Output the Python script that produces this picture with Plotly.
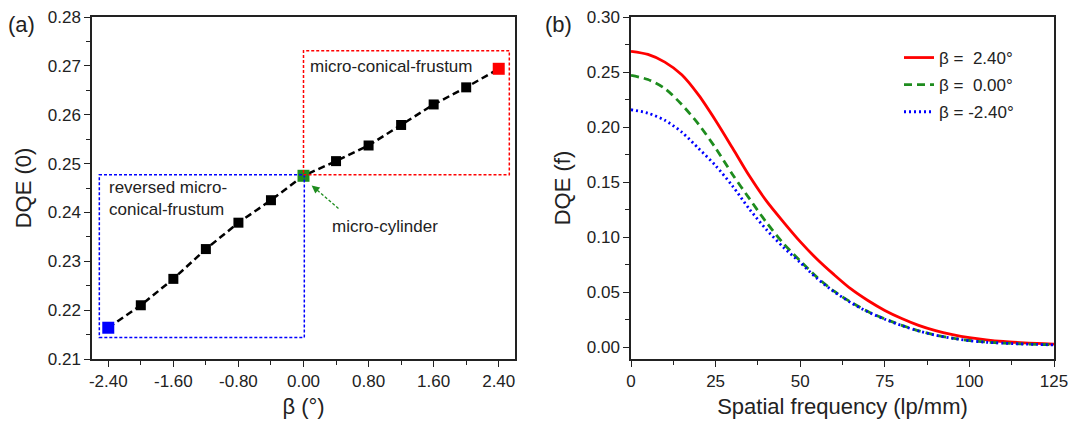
import plotly.graph_objects as go

# ---------------- data ----------------
beta = [-2.40, -2.00, -1.60, -1.20, -0.80, -0.40, 0.00, 0.40, 0.80, 1.20, 1.60, 2.00, 2.40]
dqe0 = [0.2164, 0.2210, 0.2264, 0.2325, 0.2379, 0.2425, 0.2475, 0.2505, 0.2537, 0.2579, 0.2621, 0.2656, 0.2694]

beta_ticks = [-2.40, -1.60, -0.80, 0.00, 0.80, 1.60, 2.40]
beta_ticktext = ["-2.40", "-1.60", "-0.80", "0.00", "0.80", "1.60", "2.40"]

freq = [0, 5, 10, 15, 20, 25, 30, 35, 40, 45, 50, 55, 60, 65, 70, 75, 80, 85, 90, 95, 100, 105, 110, 115, 120, 125]
dqe_pos = [0.2688, 0.2660, 0.2590, 0.2475, 0.2290, 0.2060, 0.1810, 0.1555, 0.1330, 0.1140, 0.0960, 0.0800, 0.0660,
           0.0530, 0.0425, 0.0335, 0.0262, 0.0200, 0.0152, 0.0116, 0.0088, 0.0068, 0.0053, 0.0043, 0.0035, 0.0030]
dqe_zero = [0.2470, 0.2432, 0.2350, 0.2205, 0.2025, 0.1810, 0.1570, 0.1350, 0.1135, 0.0945, 0.0785, 0.0635, 0.0510,
            0.0410, 0.0325, 0.0258, 0.0200, 0.0150, 0.0112, 0.0083, 0.0062, 0.0048, 0.0039, 0.0032, 0.0027, 0.0023]
dqe_neg = [0.2158, 0.2127, 0.2062, 0.1955, 0.1805, 0.1650, 0.1465, 0.1255, 0.1070, 0.0910, 0.0770, 0.0625, 0.0505,
           0.0405, 0.0322, 0.0255, 0.0198, 0.0148, 0.0110, 0.0082, 0.0060, 0.0046, 0.0038, 0.0031, 0.0026, 0.0022]

series_names = ["β = \u00a02.40°", "β = \u00a00.00°", "β = -2.40°"]

FONT = "Arial, Liberation Sans, sans-serif"
RED = "#ff0000"
GREEN = "#1e8c1e"
BLUE = "#0000ff"

W, H = 1071, 423


def px(p):
    return p / W


def py(p):
    return 1 - p / H


fig = go.Figure()

# ---------------- panel (a) ----------------
fig.add_trace(go.Scatter(
    x=beta, y=dqe0, mode="lines+markers", xaxis="x", yaxis="y",
    line=dict(color="black", width=2.5, dash="7px,4px"),
    marker=dict(symbol="square", size=10, color="black"),
    showlegend=False))
for idx, col in [(0, BLUE), (6, GREEN), (12, RED)]:
    fig.add_trace(go.Scatter(
        x=[beta[idx]], y=[dqe0[idx]], mode="markers", xaxis="x", yaxis="y",
        marker=dict(symbol="square", size=12, color=col),
        showlegend=False))

# ---------------- panel (b) ----------------
fig.add_trace(go.Scatter(x=freq, y=dqe_pos, mode="lines", xaxis="x2", yaxis="y2", legendgroup="a",
                         line=dict(color=RED, width=2.8, shape="spline", smoothing=0.8), name=series_names[0]))
fig.add_trace(go.Scatter(x=freq, y=dqe_zero, mode="lines", xaxis="x2", yaxis="y2", legendgroup="b",
                         line=dict(color=GREEN, width=2.8, dash="8px,5px", shape="spline", smoothing=0.8),
                         name=series_names[1]))
fig.add_trace(go.Scatter(x=freq, y=dqe_neg, mode="lines", xaxis="x2", yaxis="y2", legendgroup="c",
                         line=dict(color=BLUE, width=2.8, dash="2px,3px", shape="spline", smoothing=0.8),
                         name=series_names[2]))

axis_common = dict(showline=True, linecolor="#222", linewidth=1.5, mirror=True,
                   ticks="outside", ticklen=6, tickwidth=1.3, tickcolor="#222",
                   showgrid=False, zeroline=False, automargin=False,
                   ticklabeloverflow="allow",
                   tickfont=dict(family=FONT, size=17, color="#222"))

fig.update_layout(
    width=W, height=H,
    margin=dict(l=0, r=0, t=0, b=0, autoexpand=False),
    paper_bgcolor="white", plot_bgcolor="white",
    font=dict(family=FONT, color="#222"),
    xaxis=dict(domain=[px(92), px(515)], range=[-2.6, 2.6],
               tickvals=beta_ticks, ticktext=beta_ticktext,
               minor=dict(ticks="outside", ticklen=4, dtick=0.4, tick0=-2.4, tickcolor="#222"),
               title=dict(text="β (°)", font=dict(family=FONT, size=22), standoff=8),
               anchor="y", **axis_common),
    yaxis=dict(domain=[py(359), py(17)], range=[0.21, 0.28],
               dtick=0.01, tickformat=".2f",
               minor=dict(ticks="outside", ticklen=4, dtick=0.005, tickcolor="#222"),
               title=dict(text="DQE (0)", font=dict(family=FONT, size=22), standoff=10),
               anchor="x", **axis_common),
    xaxis2=dict(domain=[px(631), px(1054)], range=[0, 125],
                dtick=25, tickformat="d",
                minor=dict(ticks="outside", ticklen=4, dtick=12.5, tickcolor="#222"),
                title=dict(text="Spatial frequency (lp/mm)", font=dict(family=FONT, size=22), standoff=8),
                anchor="y2", **axis_common),
    yaxis2=dict(domain=[py(359), py(17)], range=[-0.0106, 0.30],
                dtick=0.05, tickformat=".2f",
                minor=dict(ticks="outside", ticklen=4, dtick=0.025, tickcolor="#222"),
                title=dict(text="DQE (f)", font=dict(family=FONT, size=22), standoff=10),
                anchor="x2", **axis_common),
    legend=dict(x=px(899), y=py(40), xanchor="left", yanchor="top",
                bgcolor="rgba(0,0,0,0)", borderwidth=0, tracegroupgap=2,
                font=dict(family=FONT, size=17, color="#222")),
)

# boxes around regions (panel a)
fig.add_shape(type="rect", xref="x", yref="y", x0=-2.51, x1=0.01, y0=0.2144, y1=0.2477,
              line=dict(color=BLUE, width=1.5, dash="3px,2px"))
fig.add_shape(type="rect", xref="x", yref="y", x0=0.0, x1=2.53, y0=0.2477, y1=0.2731,
              line=dict(color=RED, width=1.5, dash="3px,2px"))

# arrow to micro-cylinder
fig.add_shape(type="line", xref="x", yref="y", x0=0.43, y0=0.2408, x1=0.16, y1=0.2447,
              line=dict(color=GREEN, width=1.3, dash="3px,2px"))
fig.add_annotation(xref="x", yref="y", x=0.10, y=0.2455, ax=0.19, ay=0.2443,
                   axref="x", ayref="y", text="", showarrow=True,
                   arrowhead=2, arrowsize=1.2, arrowwidth=1.3, arrowcolor=GREEN)

ann_font = dict(family=FONT, size=17, color="#222")
fig.add_annotation(xref="x", yref="y", x=0.06, y=0.2698, text="micro-conical-frustum",
                   showarrow=False, xanchor="left", yanchor="middle", font=ann_font)
fig.add_annotation(xref="x", yref="y", x=-2.42, y=0.2428, text="reversed micro-<br>conical-frustum",
                   showarrow=False, xanchor="left", yanchor="middle", align="left", font=ann_font)
fig.add_annotation(xref="x", yref="y", x=0.33, y=0.2371, text="micro-cylinder",
                   showarrow=False, xanchor="left", yanchor="middle", font=ann_font)

# panel labels
fig.add_annotation(xref="paper", yref="paper", x=px(6), y=py(25), text="(a)",
                   showarrow=False, xanchor="left", yanchor="middle",
                   font=dict(family=FONT, size=22, color="#222"))
fig.add_annotation(xref="paper", yref="paper", x=px(543), y=py(25), text="(b)",
                   showarrow=False, xanchor="left", yanchor="middle",
                   font=dict(family=FONT, size=22, color="#222"))

# remove the default 8px page margin so the 1071x423 figure fills the window exactly
fig.write_html("out.html",
               config={"displayModeBar": False},
               post_script="document.body.style.margin='0';document.body.style.overflow='hidden';")
